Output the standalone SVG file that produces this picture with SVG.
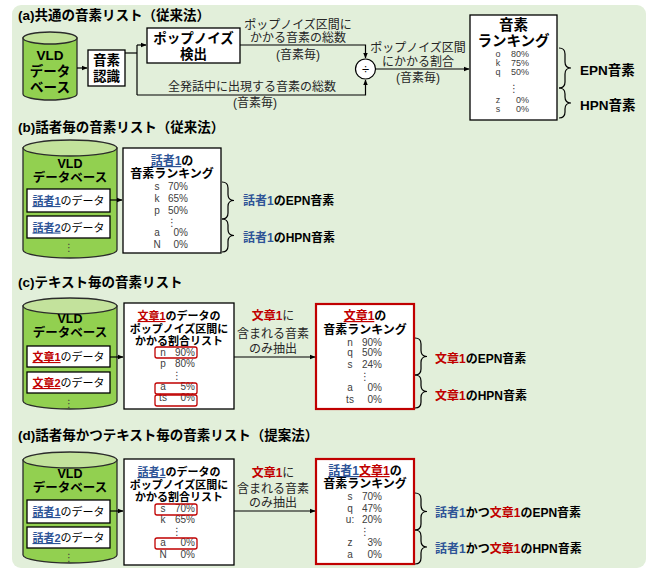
<svg xmlns="http://www.w3.org/2000/svg" width="652" height="573" viewBox="0 0 652 573">
<defs>
<marker id="ah" viewBox="0 0 10 10" refX="9" refY="5" markerWidth="6" markerHeight="6" orient="auto" markerUnits="userSpaceOnUse"><path d="M0,1 L10,5 L0,9 Z" fill="#000"/></marker>
<style>
text{font-family:"Liberation Sans","Noto Sans CJK JP",sans-serif;}
.ttl{font-size:13.5px;font-weight:bold;fill:#000;}
.box{fill:#fff;stroke:#000;stroke-width:1.3;}
.rbox{fill:#fff;stroke:#c00000;stroke-width:2.2;}
.cyl{fill:#92d050;stroke:#2b2b2b;stroke-width:1.3;}
.cyltop{fill:#c3e29c;stroke:#2b2b2b;stroke-width:1.3;}
.hd{font-weight:bold;fill:#000;text-anchor:middle;}
.e{font-size:10px;fill:#404040;}
.ea{font-size:9px;fill:#404040;}
.m{text-anchor:middle;}
.r{text-anchor:end;}
.lbl{font-size:12px;fill:#262626;text-anchor:middle;}
.bl{font-weight:bold;fill:#2f5597;}
.rd{font-weight:bold;fill:#c00000;}
.ul{text-decoration:underline;}
.conn path,.conn line{stroke:#000;stroke-width:1.2;fill:none;}
.brace{stroke:#000;stroke-width:1.2;fill:none;}
.rr{fill:none;stroke:#c00000;stroke-width:1.3;}
.bt{font-size:12px;font-weight:bold;fill:#000;}
.dots{font-family:"DejaVu Sans",sans-serif;font-size:10px;fill:#404040;text-anchor:middle;}
</style>
</defs>
<rect x="12" y="5" width="634" height="563" rx="9" fill="#e2efda"/>

<!-- (a) -->
<text class="ttl" x="18" y="20">(a)共通の音素リスト（従来法）</text>
<g id="a_db">
<path class="cyl" d="M23,38 L23,94 A27,6 0 0 0 77,94 L77,38 Z"/>
<ellipse class="cyltop" cx="50" cy="38" rx="27" ry="6"/>
<text class="hd" x="50" y="60" font-size="13.5">VLD</text>
<text class="hd" x="50" y="76" font-size="13.5">データ</text>
<text class="hd" x="50" y="92" font-size="13.5">ベース</text>
</g>
<g id="a_recog">
<rect class="box" x="88" y="50" width="37" height="36"/>
<text class="hd" x="106.5" y="65" font-size="13.5">音素</text>
<text class="hd" x="106.5" y="81" font-size="13.5">認識</text>
</g>
<g id="a_pop">
<rect class="box" x="147" y="28" width="93" height="35"/>
<text class="hd" x="193.5" y="43" font-size="13.5">ポップノイズ</text>
<text class="hd" x="193.5" y="59" font-size="13.5">検出</text>
</g>
<g id="a_div">
<circle cx="365.5" cy="69" r="10" fill="#fff" stroke="#000" stroke-width="1.2"/>
<text x="365.5" y="73.5" font-size="13" text-anchor="middle" fill="#000">÷</text>
</g>
<g id="a_rank">
<rect class="box" x="470" y="15" width="87" height="105"/>
<text class="hd" x="513.5" y="30" font-size="14.5">音素</text>
<text class="hd" x="513.5" y="46" font-size="14.5">ランキング</text>
<g class="ea">
<text class="m" x="498" y="57">o</text><text class="r" x="529" y="57">80%</text>
<text class="m" x="498" y="66">k</text><text class="r" x="529" y="66">75%</text>
<text class="m" x="498" y="75">q</text><text class="r" x="529" y="75">50%</text>
<text class="m" x="498" y="103">z</text><text class="r" x="529" y="103">0%</text>
<text class="m" x="498" y="112">s</text><text class="r" x="529" y="112">0%</text>
</g>
<text class="dots" x="514" y="92" font-size="12">⋮</text>
</g>
<g id="a_epn">
<path class="brace" d="M559,48 Q565,48 565,54 L565,62 Q565,68 571,68 Q565,68 565,74 L565,82 Q565,88 559,88"/>
<text x="580" y="75" font-size="13.5" font-weight="bold" fill="#000">EPN音素</text>
</g>
<g id="a_hpn">
<path class="brace" d="M559,88 Q565,88 565,94 L565,97 Q565,103 571,103 Q565,103 565,109 L565,112 Q565,118 559,118"/>
<text x="580" y="110" font-size="13.5" font-weight="bold" fill="#000">HPN音素</text>
</g>
<g class="conn" id="a_conn">
<path d="M77,68 H87" marker-end="url(#ah)"/>
<path d="M125,53 H137"/>
<path d="M137,45 V95"/>
<path d="M137,45 H146" marker-end="url(#ah)"/>
<path d="M137,95 H365.5 V80" marker-end="url(#ah)"/>
<path d="M240,45 H365.5 V58" marker-end="url(#ah)"/>
<path d="M375.5,69 H469" marker-end="url(#ah)"/>
</g>
<g id="a_labels">
<text class="lbl" x="298" y="29" font-size="11.5">ポップノイズ区間に</text>
<text class="lbl" x="298" y="42" font-size="11.5">かかる音素の総数</text>
<text class="lbl" x="298" y="59" font-size="11.5">(音素毎)</text>
<text class="lbl" x="252" y="91">全発話中に出現する音素の総数</text>
<text class="lbl" x="255" y="107">(音素毎)</text>
<text class="lbl" x="418" y="52">ポップノイズ区間</text>
<text class="lbl" x="418" y="66">にかかる割合</text>
<text class="lbl" x="418" y="82">(音素毎)</text>
</g>

<!-- (b) -->
<text class="ttl" x="18" y="132">(b)話者毎の音素リスト（従来法）</text>
<g id="b_db">
<path class="cyl" d="M23,148 L23,250 A47,8 0 0 0 117,250 L117,148 Z"/>
<ellipse class="cyltop" cx="70" cy="148" rx="47" ry="8"/>
<text class="hd" x="70" y="168" font-size="12.5">VLD</text>
<text class="hd" x="70" y="182" font-size="12.5">データベース</text>
<rect class="box" x="27" y="189" width="83" height="23"/>
<text x="68.5" y="205" font-size="11" text-anchor="middle" fill="#000"><tspan class="bl ul">話者1</tspan>のデータ</text>
<rect class="box" x="27" y="216" width="83" height="22"/>
<text x="68.5" y="231.5" font-size="11" text-anchor="middle" fill="#000"><tspan class="bl ul">話者2</tspan>のデータ</text>
<text class="dots" x="69" y="251" font-size="11">⋮</text>
</g>
<g id="b_rank">
<rect class="box" x="123" y="148" width="98" height="105"/>
<text class="hd" x="172" y="165" font-size="12"><tspan class="bl ul">話者1</tspan>の</text>
<text class="hd" x="172" y="178" font-size="12">音素ランキング</text>
<g class="e">
<text class="m" x="157" y="190">s</text><text class="r" x="188" y="190">70%</text>
<text class="m" x="157" y="202">k</text><text class="r" x="188" y="202">65%</text>
<text class="m" x="157" y="214">p</text><text class="r" x="188" y="214">50%</text>
<text class="m" x="157" y="236">a</text><text class="r" x="188" y="236">0%</text>
<text class="m" x="157" y="248">N</text><text class="r" x="188" y="248">0%</text>
</g>
<text class="dots" x="172" y="226">⋮</text>
</g>
<g id="b_epn">
<path class="brace" d="M222,182 Q228,182 228,188 L228,194.5 Q228,200.5 234,200.5 Q228,200.5 228,206.5 L228,213 Q228,219 222,219"/>
<text class="bt" x="243" y="205"><tspan class="bl">話者1</tspan>のEPN音素</text>
</g>
<g id="b_hpn">
<path class="brace" d="M222,219 Q228,219 228,225 L228,229.5 Q228,235.5 234,235.5 Q228,235.5 228,241.5 L228,246 Q228,252 222,252"/>
<text class="bt" x="243" y="242"><tspan class="bl">話者1</tspan>のHPN音素</text>
</g>
<g class="conn" id="b_conn">
<path d="M110,200 H122" marker-end="url(#ah)"/>
</g>

<!-- (c) -->
<text class="ttl" x="18" y="287">(c)テキスト毎の音素リスト</text>
<g id="c_db">
<path class="cyl" d="M23,306 L23,401 A47,8 0 0 0 117,401 L117,306 Z"/>
<ellipse class="cyltop" cx="70" cy="306" rx="47" ry="8"/>
<text class="hd" x="70" y="323" font-size="12.5">VLD</text>
<text class="hd" x="70" y="337" font-size="12.5">データベース</text>
<rect class="box" x="27" y="346" width="83" height="21"/>
<text x="68.5" y="361" font-size="11" text-anchor="middle" fill="#000"><tspan class="rd ul">文章1</tspan>のデータ</text>
<rect class="box" x="27" y="372" width="83" height="21"/>
<text x="68.5" y="387" font-size="11" text-anchor="middle" fill="#000"><tspan class="rd ul">文章2</tspan>のデータ</text>
<text class="dots" x="69" y="407" font-size="11">⋮</text>
</g>
<g id="c_list">
<rect class="box" x="124" y="303" width="110" height="106"/>
<text class="hd" x="179" y="320" font-size="11"><tspan class="rd ul">文章1</tspan>のデータの</text>
<text class="hd" x="179" y="333" font-size="11">ポップノイズ区間に</text>
<text class="hd" x="179" y="345" font-size="11">かかる割合リスト</text>
<g class="e">
<text class="m" x="163" y="356">n</text><text class="r" x="195" y="356">90%</text>
<text class="m" x="163" y="367">p</text><text class="r" x="195" y="367">80%</text>
<text class="m" x="163" y="390">a</text><text class="r" x="195" y="390">5%</text>
<text class="m" x="163" y="401">ts</text><text class="r" x="195" y="401">0%</text>
</g>
<text class="dots" x="177" y="379">⋮</text>
<rect class="rr" x="155" y="347" width="42" height="11" rx="2"/>
<rect class="rr" x="155" y="383" width="42" height="11" rx="2"/>
<rect class="rr" x="155" y="395" width="42" height="11" rx="2"/>
</g>
<g id="c_rank">
<rect class="rbox" x="316" y="304" width="98" height="105"/>
<text class="hd" x="365" y="320" font-size="12"><tspan class="rd ul">文章1</tspan>の</text>
<text class="hd" x="365" y="334" font-size="12">音素ランキング</text>
<g class="e">
<text class="m" x="350" y="346">n</text><text class="r" x="382" y="346">90%</text>
<text class="m" x="350" y="356">q</text><text class="r" x="382" y="356">50%</text>
<text class="m" x="350" y="368">s</text><text class="r" x="382" y="368">24%</text>
<text class="m" x="350" y="391">a</text><text class="r" x="382" y="391">0%</text>
<text class="m" x="350" y="403">ts</text><text class="r" x="382" y="403">0%</text>
</g>
<text class="dots" x="365" y="380">⋮</text>
</g>
<g id="c_epn">
<path class="brace" d="M415,338 Q421,338 421,344 L421,350.5 Q421,356.5 427,356.5 Q421,356.5 421,362.5 L421,369 Q421,375 415,375"/>
<text class="bt" x="435" y="363"><tspan class="rd">文章1</tspan>のEPN音素</text>
</g>
<g id="c_hpn">
<path class="brace" d="M415,375 Q421,375 421,381 L421,385.5 Q421,391.5 427,391.5 Q421,391.5 421,397.5 L421,402 Q421,408 415,408"/>
<text class="bt" x="435" y="400"><tspan class="rd">文章1</tspan>のHPN音素</text>
</g>
<g class="conn" id="c_conn">
<path d="M110,357 H123" marker-end="url(#ah)"/>
<path d="M234,357 H315" marker-end="url(#ah)"/>
</g>
<g id="c_labels">
<text class="lbl" x="273" y="320"><tspan class="rd">文章1</tspan>に</text>
<text class="lbl" x="273" y="338">含まれる音素</text>
<text class="lbl" x="273" y="353">のみ抽出</text>
</g>

<!-- (d) -->
<text class="ttl" x="18" y="440">(d)話者毎かつテキスト毎の音素リスト（提案法）</text>
<g id="d_db">
<path class="cyl" d="M23,460 L23,555 A47,8 0 0 0 117,555 L117,460 Z"/>
<ellipse class="cyltop" cx="70" cy="460" rx="47" ry="8"/>
<text class="hd" x="70" y="478" font-size="12.5">VLD</text>
<text class="hd" x="70" y="492" font-size="12.5">データベース</text>
<rect class="box" x="27" y="500" width="83" height="23"/>
<text x="68.5" y="516" font-size="11" text-anchor="middle" fill="#000"><tspan class="bl ul">話者1</tspan>のデータ</text>
<rect class="box" x="27" y="527" width="83" height="21"/>
<text x="68.5" y="542" font-size="11" text-anchor="middle" fill="#000"><tspan class="bl ul">話者2</tspan>のデータ</text>
<text class="dots" x="69" y="561" font-size="11">⋮</text>
</g>
<g id="d_list">
<rect class="box" x="124" y="459" width="110" height="106"/>
<text class="hd" x="179" y="476" font-size="11"><tspan class="bl ul">話者1</tspan>のデータの</text>
<text class="hd" x="179" y="489" font-size="11">ポップノイズ区間に</text>
<text class="hd" x="179" y="501" font-size="11">かかる割合リスト</text>
<g class="e">
<text class="m" x="163" y="512">s</text><text class="r" x="195" y="512">70%</text>
<text class="m" x="163" y="523">k</text><text class="r" x="195" y="523">65%</text>
<text class="m" x="163" y="546">a</text><text class="r" x="195" y="546">0%</text>
<text class="m" x="163" y="558">N</text><text class="r" x="195" y="558">0%</text>
</g>
<text class="dots" x="177" y="535">⋮</text>
<rect class="rr" x="155" y="504" width="42" height="11" rx="2"/>
<rect class="rr" x="155" y="538" width="42" height="11" rx="2"/>
</g>
<g id="d_rank">
<rect class="rbox" x="316" y="459" width="98" height="105"/>
<text class="hd" x="365" y="475" font-size="12"><tspan class="bl ul">話者1</tspan><tspan class="rd ul">文章1</tspan>の</text>
<text class="hd" x="365" y="488" font-size="12">音素ランキング</text>
<g class="e">
<text class="m" x="350" y="500">s</text><text class="r" x="382" y="500">70%</text>
<text class="m" x="350" y="512">q</text><text class="r" x="382" y="512">47%</text>
<text class="m" x="350" y="523">u:</text><text class="r" x="382" y="523">20%</text>
<text class="m" x="350" y="546">z</text><text class="r" x="382" y="546">3%</text>
<text class="m" x="350" y="558">a</text><text class="r" x="382" y="558">0%</text>
</g>
<text class="dots" x="365" y="535">⋮</text>
</g>
<g id="d_epn">
<path class="brace" d="M415,493 Q421,493 421,499 L421,505.5 Q421,511.5 427,511.5 Q421,511.5 421,517.5 L421,524 Q421,530 415,530"/>
<text class="bt" x="435" y="517"><tspan class="bl">話者1</tspan>かつ<tspan class="rd">文章1</tspan>のEPN音素</text>
</g>
<g id="d_hpn">
<path class="brace" d="M415,530 Q421,530 421,536 L421,541 Q421,547 427,547 Q421,547 421,553 L421,558 Q421,564 415,564"/>
<text class="bt" x="435" y="553"><tspan class="bl">話者1</tspan>かつ<tspan class="rd">文章1</tspan>のHPN音素</text>
</g>
<g class="conn" id="d_conn">
<path d="M110,511 H123" marker-end="url(#ah)"/>
<path d="M234,511 H315" marker-end="url(#ah)"/>
</g>
<g id="d_labels">
<text class="lbl" x="273" y="477"><tspan class="rd">文章1</tspan>に</text>
<text class="lbl" x="273" y="493">含まれる音素</text>
<text class="lbl" x="273" y="507">のみ抽出</text>
</g>
</svg>
